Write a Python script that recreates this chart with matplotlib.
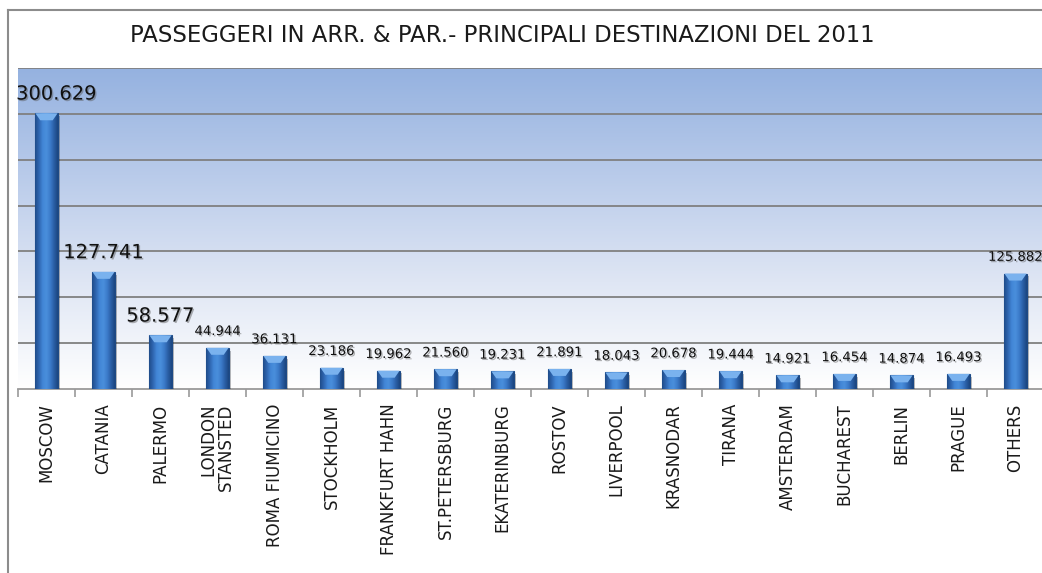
import matplotlib
matplotlib.use("Agg")
import matplotlib.pyplot as plt
import matplotlib.patheffects as pe
from matplotlib.colors import LinearSegmentedColormap
from matplotlib.patches import Polygon
import numpy as np

title = "PASSEGGERI IN ARR. & PAR.- PRINCIPALI DESTINAZIONI DEL 2011"
categories = ["MOSCOW", "CATANIA", "PALERMO", "LONDON\nSTANSTED", "ROMA FIUMICINO",
              "STOCKHOLM", "FRANKFURT HAHN", "ST.PETERSBURG", "EKATERINBURG", "ROSTOV",
              "LIVERPOOL", "KRASNODAR", "TIRANA", "AMSTERDAM", "BUCHAREST", "BERLIN",
              "PRAGUE", "OTHERS"]
values = [300.629, 127.741, 58.577, 44.944, 36.131, 23.186, 19.962, 21.560, 19.231,
          21.891, 18.043, 20.678, 19.444, 14.921, 16.454, 14.874, 16.493, 125.882]
value_labels = ["300.629", "127.741", "58.577", "44.944", "36.131", "23.186", "19.962",
                "21.560", "19.231", "21.891", "18.043", "20.678", "19.444", "14.921",
                "16.454", "14.874", "16.493", "125.882"]
gridlines = [50, 100, 150, 200, 250, 300, 350]

W, H = 1042, 573
fig = plt.figure(figsize=(W / 100, H / 100), dpi=100)
fig.patch.set_facecolor("white")

# outer frame (left and top edges visible)
fig.add_artist(plt.Line2D([8 / W, 8 / W], [0, 1 - 10 / H], color="#8c8c8c", lw=1.5))
fig.add_artist(plt.Line2D([8 / W, 1], [1 - 10 / H, 1 - 10 / H], color="#8c8c8c", lw=1.5))

fig.text(502 / W, 1 - 36 / H, title, ha="center", va="center", fontsize=16.4,
         color="#1a1a1a", family="DejaVu Sans")

left, right = 18 / W, 1044 / W
bottom, top = 1 - 389 / H, 1 - 68 / H
ax = fig.add_axes([left, bottom, right - left, top - bottom])
n = len(categories)
ax.set_xlim(-0.5, n - 0.5)
ax.set_ylim(0, 350)

# background gradient
bg = LinearSegmentedColormap.from_list("bg", ["#ffffff", "#dfe6f4", "#b9cbea", "#95b2e0"])
grad = np.linspace(0, 1, 256).reshape(-1, 1)
ax.imshow(grad, cmap=bg, aspect="auto", extent=[0, 1, 0, 1], origin="lower",
          transform=ax.transAxes, zorder=0)

for g in gridlines:
    ax.axhline(g, color="#808080", lw=1.3, zorder=1)

for s in ["left", "right", "top"]:
    ax.spines[s].set_visible(False)
ax.spines["bottom"].set_color("#9a9a9a")
ax.spines["bottom"].set_linewidth(1.3)
ax.spines["bottom"].set_zorder(3)

ax.set_yticks([])
ax.set_xticks(np.arange(n))
ax.set_xticklabels(categories, rotation=90, ha="center", va="top", ma="right",
                   fontsize=12, color="#1a1a1a", linespacing=0.95)
ax.tick_params(axis="x", which="major", length=0, pad=10.5)
ax.set_xticks(np.arange(n + 1) - 0.5, minor=True)
ax.tick_params(axis="x", which="minor", length=6, width=1.2, color="#9a9a9a", direction="out")

bw = 0.39
bar_cmap = LinearSegmentedColormap.from_list(
    "bar", ["#1f4c8a", "#2f66b0", "#4286d6", "#4a8fdc", "#3c7bca", "#2a5fa6", "#1c4680"])
hgrad = np.linspace(0, 1, 64).reshape(1, -1)
bars = ax.bar(np.arange(n), values, width=bw, color="#3a78c6", edgecolor="#1d4a86",
              lw=0.8, zorder=4,
              path_effects=[pe.withSimplePatchShadow(offset=(2, -2), shadow_rgbFace="#000000",
                                                     alpha=0.25)])
px_per_unit = (top - bottom) * H / 350.0
bevel = 7 / px_per_unit
for i, (b, v) in enumerate(zip(bars, values)):
    x0 = b.get_x()
    im = ax.imshow(hgrad, cmap=bar_cmap, aspect="auto",
                   extent=[x0, x0 + bw, 0, v], zorder=5)
    im.set_clip_path(b)
    tri = Polygon([[x0, v], [x0 + bw, v], [x0 + bw * 0.78, v - bevel],
                   [x0 + bw * 0.22, v - bevel]], closed=True,
                  facecolor="#7ab2ee", edgecolor="none", zorder=6)
    ax.add_patch(tri)
    big = i < 3
    dx = 7 if i == 0 else 0
    ax.annotate(value_labels[i], (i, v), xytext=(dx, 7), textcoords="offset points",
                ha="center", va="bottom", fontsize=14 if big else 9.5,
                color="#111111", zorder=7, annotation_clip=False,
                path_effects=[pe.withSimplePatchShadow(offset=(1, -1), shadow_rgbFace="#555555",
                                                       alpha=0.45)])

fig.savefig("out.png", dpi=100)
